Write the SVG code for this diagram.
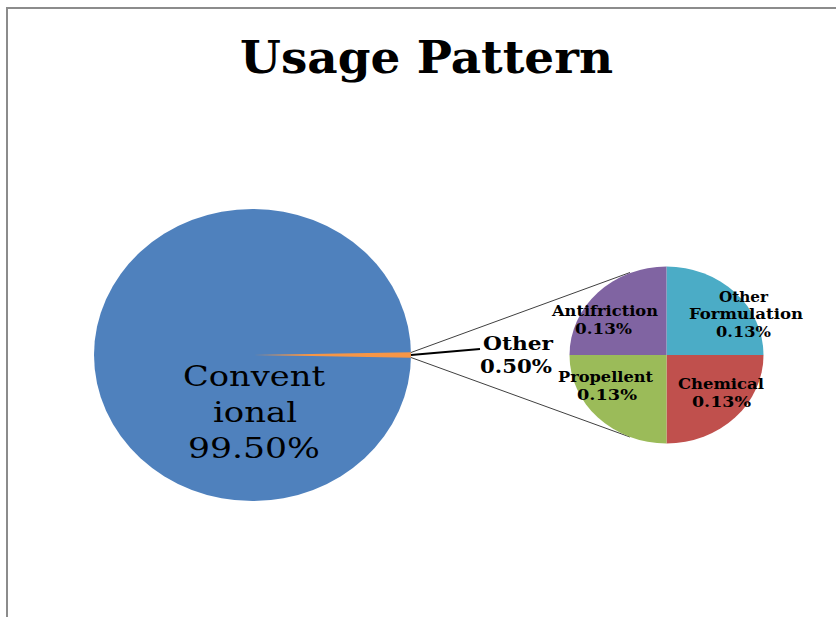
<svg xmlns="http://www.w3.org/2000/svg" width="836" height="617" viewBox="0 0 836 617">
<style>
text{font-family:"DejaVu Serif","Liberation Serif",serif;fill:#000}
.title{font-size:45px;font-weight:bold}
.big{font-size:28px}
.mid{font-size:18px;font-weight:bold}
.sm{font-size:14px;font-weight:bold}
.conn{stroke:#404040;stroke-width:1;fill:none}
</style>
<rect width="836" height="617" fill="#fff"/>
<path d="M7 617 V8 H836" fill="none" stroke="#8c8c8c" stroke-width="2"/>
<text class="title" x="240" y="73" textLength="373" lengthAdjust="spacingAndGlyphs">Usage Pattern</text>
<g id="conventional">
<ellipse cx="252.5" cy="355" rx="158.5" ry="146" fill="#4F81BD"/>
<text class="big" x="183" y="386" textLength="142" lengthAdjust="spacingAndGlyphs">Convent</text>
<text class="big" x="213" y="422" textLength="84" lengthAdjust="spacingAndGlyphs">ional</text>
<text class="big" x="188" y="458" textLength="132" lengthAdjust="spacingAndGlyphs">99.50%</text>
</g>
<g id="other">
<path d="M252.5 355 L410.9 352.3 A158.5 146 0 0 1 410.9 357.7 Z" fill="#F79646"/>
<text class="mid" x="483" y="350" textLength="70" lengthAdjust="spacingAndGlyphs">Other</text>
<text class="mid" x="480" y="373" textLength="72" lengthAdjust="spacingAndGlyphs">0.50%</text>
</g>
<g id="connectors">
<line class="conn" x1="411" y1="352.5" x2="630" y2="272.5"/>
<line class="conn" x1="411" y1="357.5" x2="630" y2="437"/>
<path d="M411 355 L480 349" stroke="#000" stroke-width="2" fill="none"/>
</g>
<g id="other-formulation">
<path d="M666.5 355 L666.5 266.5 A97 88.5 0 0 1 763.5 355 Z" fill="#4BACC6"/>
<text class="sm" x="719" y="302" textLength="49" lengthAdjust="spacingAndGlyphs">Other</text>
<text class="sm" x="689" y="319" textLength="114" lengthAdjust="spacingAndGlyphs">Formulation</text>
<text class="sm" x="716" y="337" textLength="55" lengthAdjust="spacingAndGlyphs">0.13%</text>
</g>
<g id="chemical">
<path d="M666.5 355 L763.5 355 A97 88.5 0 0 1 666.5 443.5 Z" fill="#C0504D"/>
<text class="sm" x="678" y="389" textLength="86" lengthAdjust="spacingAndGlyphs">Chemical</text>
<text class="sm" x="692" y="407" textLength="59" lengthAdjust="spacingAndGlyphs">0.13%</text>
</g>
<g id="propellent">
<path d="M666.5 355 L666.5 443.5 A97 88.5 0 0 1 569.5 355 Z" fill="#9BBB59"/>
<text class="sm" x="558" y="382" textLength="95" lengthAdjust="spacingAndGlyphs">Propellent</text>
<text class="sm" x="577" y="400" textLength="60" lengthAdjust="spacingAndGlyphs">0.13%</text>
</g>
<g id="antifriction">
<path d="M666.5 355 L569.5 355 A97 88.5 0 0 1 666.5 266.5 Z" fill="#8064A2"/>
<text class="sm" x="552" y="316" textLength="106" lengthAdjust="spacingAndGlyphs">Antifriction</text>
<text class="sm" x="575" y="334" textLength="57" lengthAdjust="spacingAndGlyphs">0.13%</text>
</g>
</svg>
